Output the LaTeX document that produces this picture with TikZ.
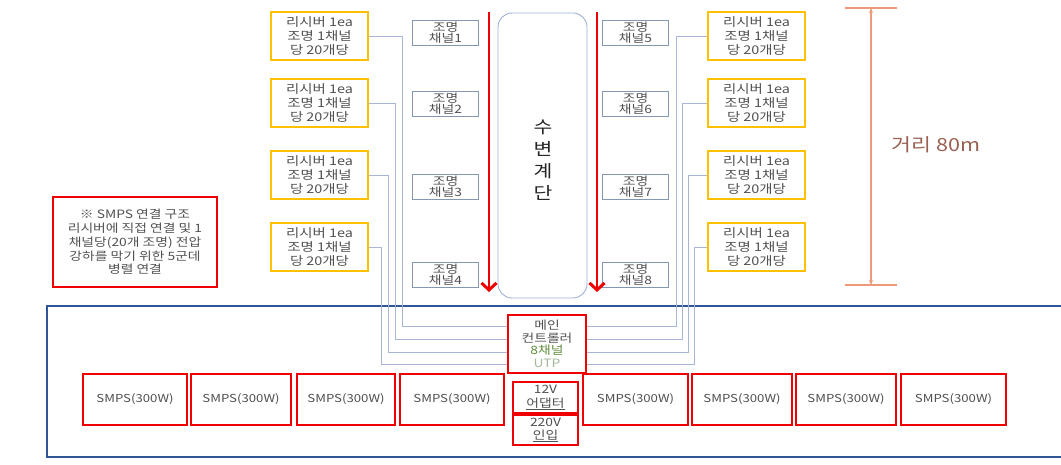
\documentclass[tikz,border=0pt]{standalone}
\usepackage{fontspec}
\setmainfont[FakeStretch=1.2]{Noto Sans CJK KR}
\usetikzlibrary{arrows.meta}
\definecolor{gold}{HTML}{FFC000}
\definecolor{myred}{HTML}{F00000}
\definecolor{frameblue}{HTML}{2F5597}
\definecolor{chanblue}{HTML}{8497B0}
\definecolor{wireblue}{HTML}{A6B6D4}
\definecolor{stairblue}{HTML}{9DB0D6}
\definecolor{txtgray}{HTML}{505050}
\definecolor{dimcol}{HTML}{EE9A7A}
\definecolor{dimtxt}{HTML}{9A6050}
\definecolor{grn}{HTML}{5E8E3A}
\definecolor{ltgrn}{HTML}{A5B89A}
\begin{document}
\begin{tikzpicture}[x=1pt,y=-1pt,
  recv/.style={draw=gold, line width=2.5pt, minimum width=97pt, minimum height=48pt, inner sep=0pt, align=center, text=txtgray, font=\fontsize{12}{14}\selectfont},
  chan/.style={draw=chanblue, line width=0.9pt, minimum width=66pt, minimum height=25pt, inner sep=0pt, align=center, text=txtgray, font=\fontsize{11.5}{11.5}\selectfont},
  redbox/.style={draw=myred, line width=2.5pt, inner sep=0pt, align=center, text=txtgray},
  smps/.style={redbox, minimum height=51pt, font=\fontsize{11}{13}\selectfont},
  wire/.style={draw=wireblue, line width=0.8pt},
  redarrow/.style={draw=myred, line width=2.8pt, -{Straight Barb[length=7pt,width=15pt,line width=3pt]}},
  dimline/.style={draw=dimcol, line width=1.1pt},
]
\useasboundingbox (0,0) rectangle (1061,465);

% blue frame
\draw[draw=frameblue, line width=2pt] (1061,306) -- (47,306) -- (47,457) -- (1061,457);

% stair box
\node[draw=stairblue, line width=0.9pt, rounded corners=14pt, minimum width=89pt, minimum height=285pt] (stair) at (542.5,155.5) {};
\node[font=\fontsize{17}{22}\selectfont, align=center, text=black!85] (stairlbl) at (543,160) {수\\변\\계\\단};

% receivers left
\node[recv] (r1) at (319.5,36) {리시버 1ea\\조명 1채널\\당 20개당};
\node[recv] (r2) at (319.5,103) {리시버 1ea\\조명 1채널\\당 20개당};
\node[recv] (r3) at (319.5,175) {리시버 1ea\\조명 1채널\\당 20개당};
\node[recv] (r4) at (319.5,247) {리시버 1ea\\조명 1채널\\당 20개당};
% receivers right
\node[recv] (r5) at (756.5,36) {리시버 1ea\\조명 1채널\\당 20개당};
\node[recv] (r6) at (756.5,103) {리시버 1ea\\조명 1채널\\당 20개당};
\node[recv] (r7) at (756.5,175) {리시버 1ea\\조명 1채널\\당 20개당};
\node[recv] (r8) at (756.5,247) {리시버 1ea\\조명 1채널\\당 20개당};

% channel boxes
\node[chan] (c1) at (445.5,32.5) {조명\\채널1};
\node[chan] (c2) at (445.5,103.5) {조명\\채널2};
\node[chan] (c3) at (445.5,186.5) {조명\\채널3};
\node[chan] (c4) at (445.5,274.5) {조명\\채널4};
\node[chan] (c5) at (635.5,32.5) {조명\\채널5};
\node[chan] (c6) at (635.5,103.5) {조명\\채널6};
\node[chan] (c7) at (635.5,186.5) {조명\\채널7};
\node[chan] (c8) at (635.5,274.5) {조명\\채널8};

% red arrows
\coordinate (la1) at (489,12); \coordinate (la2) at (489,292);
\coordinate (ra1) at (597,12); \coordinate (ra2) at (597,292);
\draw[redarrow] (la1) -- (la2);
\draw[redarrow] (ra1) -- (ra2);

% controller and power
\node[redbox, minimum width=78pt, minimum height=58pt, font=\fontsize{11.5}{12.5}\selectfont] (ctrl) at (547,344) {메인\\컨트롤러\\\textcolor{grn}{8채널}\\\textcolor{ltgrn}{UTP}};
\node[redbox, minimum width=65pt, minimum height=31pt, font=\fontsize{11.5}{14}\selectfont] (adp) at (545.5,397.5) {12V\\\underline{어댑터}};
\node[redbox, minimum width=65pt, minimum height=30pt, font=\fontsize{11.5}{13}\selectfont] (inp) at (545.5,430) {220V\\\underline{인입}};

% SMPS
\node[smps, minimum width=104pt] (s1) at (135,399.5) {SMPS(300W)};
\node[smps, minimum width=100pt] (s2) at (241,399.5) {SMPS(300W)};
\node[smps, minimum width=98pt] (s3) at (346,399.5) {SMPS(300W)};
\node[smps, minimum width=104pt] (s4) at (452,399.5) {SMPS(300W)};
\node[smps, minimum width=105pt] (s5) at (635.5,399.5) {SMPS(300W)};
\node[smps, minimum width=100pt] (s6) at (742,399.5) {SMPS(300W)};
\node[smps, minimum width=100pt] (s7) at (846,399.5) {SMPS(300W)};
\node[smps, minimum width=105pt] (s8) at (953.5,399.5) {SMPS(300W)};

% wires
\coordinate (w1) at (402,326); \coordinate (w2) at (395,339);
\coordinate (w3) at (388,352); \coordinate (w4) at (381,364);
\coordinate (w5) at (676,326); \coordinate (w6) at (682,339);
\coordinate (w7) at (688,352); \coordinate (w8) at (694,364);
\draw[wire] (r1.east) -| (w1) -- (w1 -| ctrl.west);
\draw[wire] (r2.east) -| (w2) -- (w2 -| ctrl.west);
\draw[wire] (r3.east) -| (w3) -- (w3 -| ctrl.west);
\draw[wire] (r4.east) -| (w4) -- (w4 -| ctrl.west);
\draw[wire] (r5.west) -| (w5) -- (w5 -| ctrl.east);
\draw[wire] (r6.west) -| (w6) -- (w6 -| ctrl.east);
\draw[wire] (r7.west) -| (w7) -- (w7 -| ctrl.east);
\draw[wire] (r8.west) -| (w8) -- (w8 -| ctrl.east);

% note
\node[redbox, minimum width=164pt, minimum height=90pt, font=\fontsize{11.5}{13.7}\selectfont] (note) at (135,242) {※ SMPS 연결 구조\\리시버에 직접 연결 및 1\\채널당(20개 조명) 전압\\강하를 막기 위한 5군데\\병렬 연결};

% dimension
\coordinate (dt) at (871,8); \coordinate (db) at (871,285);
\draw[dimline] (845,8) -- (897,8);
\draw[dimline] (845,285) -- (897,285);
\draw[dimline, {Stealth[length=5pt,width=4pt]}-{Stealth[length=5pt,width=4pt]}] (dt) -- (db);
\node[font=\fontsize{18}{20}\selectfont, text=dimtxt, anchor=west] (dimlbl) at (888,145) {거리 80m};
\end{tikzpicture}
\end{document}
